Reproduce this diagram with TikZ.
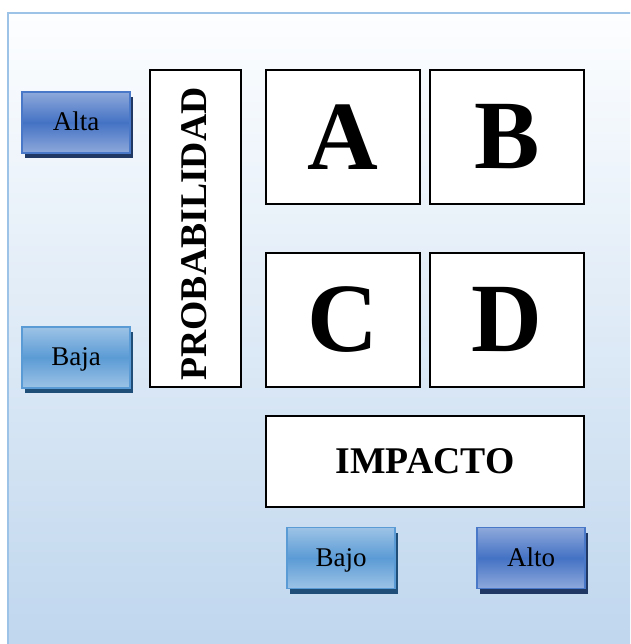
\documentclass[tikz,border=0pt]{standalone}
\usepackage{fontspec}
\setmainfont{Liberation Serif}
\usetikzlibrary{shadows}
\definecolor{frameline}{HTML}{9DC3E6}
\definecolor{bgtop}{HTML}{FDFEFF}
\definecolor{bgmid}{HTML}{E9F0F9}
\definecolor{bgbot}{HTML}{BDD5ED}
\definecolor{darkmid}{HTML}{4472C4}
\definecolor{darkedge}{HTML}{8EA9DB}
\definecolor{darkborder}{HTML}{4A78C8}
\definecolor{darkshadow}{HTML}{1F3864}
\definecolor{lightmid}{HTML}{5B9BD5}
\definecolor{lightedge}{HTML}{9DC3E6}
\definecolor{lightborder}{HTML}{5B9BD5}
\definecolor{lightshadow}{HTML}{1F4E79}
\tikzset{
  cell/.style={draw=black, line width=1.3pt, fill=white, inner sep=0pt,
    drop shadow={shadow xshift=1.2pt, shadow yshift=-1.2pt, fill=gray, opacity=0.6}},
  bigletter/.style={cell, minimum width=154pt, minimum height=134pt,
    font=\fontsize{98}{98}\selectfont\bfseries},
  labeltext/.style={font=\fontsize{37.7}{38}\selectfont\bfseries},
  btnbase/.style={line width=1.5pt, minimum width=108pt, minimum height=61pt, inner sep=0pt,
    font=\fontsize{27}{27}\selectfont, text height=19pt, text depth=3pt},
  darkbtn/.style={btnbase, draw=darkborder, top color=darkedge, bottom color=darkedge,
    middle color=darkmid,
    drop shadow={shadow xshift=3pt, shadow yshift=-5pt, fill=darkshadow, opacity=1}},
  lightbtn/.style={btnbase, draw=lightborder, top color=lightedge, bottom color=lightedge,
    middle color=lightmid,
    drop shadow={shadow xshift=3pt, shadow yshift=-5pt, fill=lightshadow, opacity=1}}
}
\begin{document}
\begin{tikzpicture}[x=1pt,y=-1pt]
\useasboundingbox (0,0) rectangle (630,644);
\fill[white] (0,0) rectangle (630,644);
\begin{scope}
\clip (0,0) rectangle (630,644);
\shade[top color=bgtop, middle color=bgmid, bottom color=bgbot] (8,13) rectangle (660,670);
\draw[frameline, line width=2pt] (660,13) -- (8,13) -- (8,670);
\end{scope}
% rows/columns
\node[cell, minimum width=91pt, minimum height=317pt] (prob) at (195.5,228.5) {};
\node[labeltext, rotate=90] (probtext) at (194,234) {PROBABILIDAD};
\node[bigletter] (a) at (343,137) {A};
\node[bigletter] (b) at (507,137) {B};
\node[bigletter] (c) at (343,320) {C};
\node[bigletter] (d) at (507,320) {D};
\node[cell, labeltext, minimum width=318pt, minimum height=91pt] (imp) at (425,461.5) {IMPACTO};
% buttons
\node[darkbtn] (alta) at (76,122.5) {Alta};
\node[lightbtn] (baja) at (76,357.5) {Baja};
\node[lightbtn] (bajo) at (341,558) {Bajo};
\node[darkbtn] (alto) at (531,558) {Alto};
\end{tikzpicture}
\end{document}
